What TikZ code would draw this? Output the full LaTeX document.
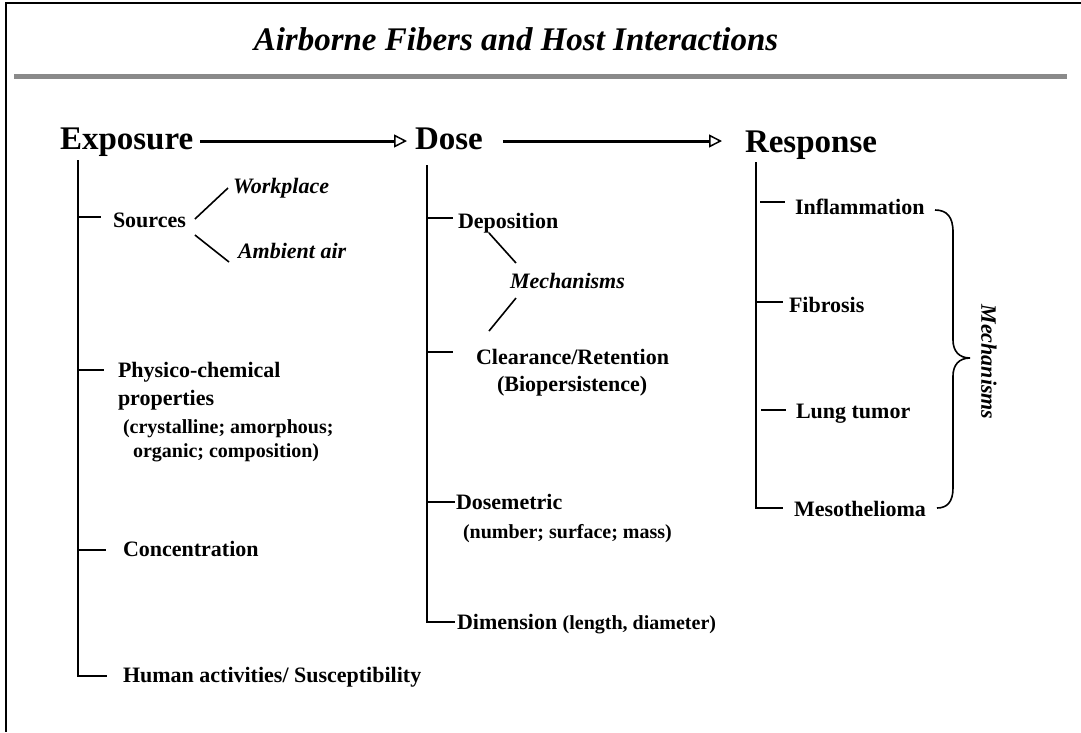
\documentclass[tikz,border=0pt]{standalone}
\usepackage{fontspec}
\setmainfont{Liberation Serif}
\usetikzlibrary{arrows.meta}
\definecolor{rulegray}{HTML}{8A8A8A}
\begin{document}
\begin{tikzpicture}[x=1pt,y=-1pt,
  every node/.style={inner sep=0pt, outer sep=0pt, anchor=base west},
  titlefont/.style={font=\fontsize{33}{36}\selectfont\bfseries\itshape},
  head/.style={font=\fontsize{33}{36}\selectfont\bfseries},
  item/.style={font=\fontsize{22}{24}\selectfont\bfseries},
  sub/.style={font=\fontsize{20}{22}\selectfont\bfseries},
  ital/.style={font=\fontsize{22}{24}\selectfont\bfseries\itshape},
  trunk/.style={line width=2pt},
  thinline/.style={line width=1.6pt},
  flow/.style={line width=3pt, -{Triangle[open,length=13pt,width=13pt,line width=1.5pt]}},
]
\useasboundingbox (0,0) rectangle (1081,732);
% frame and rule
\draw[line width=2.2pt] (1081,3) -- (6,3) -- (6,732);
\fill[rulegray] (14,74) rectangle (1067,79);
\node[titlefont, anchor=base] (title) at (516,50) {Airborne Fibers and Host Interactions};

% headings
\node[head] (exp)  at (60,149)  {Exposure};
\node[head] (dose) at (415,149) {Dose};
\node[head] (resp) at (745,152) {Response};
\draw[flow] ([shift={(7,-8)}]exp.base east) -- ([shift={(-8,-8)}]dose.base west);
\draw[flow] ([shift={(20,-8)}]dose.base east) -- ([shift={(-23,-11)}]resp.base west);

% ---------- Exposure column ----------
\node[item] (src)  at (113,227) {Sources};
\node[ital] (work) at (233,193) {Workplace};
\node[ital] (amb)  at (238,258) {Ambient air};
\draw[thinline] ([shift={(9,-8)}]src.base east) -- ([shift={(-5,-5)}]work.base west);
\draw[thinline] ([shift={(9,8)}]src.base east) -- ([shift={(-9,4)}]amb.base west);

\node[item] (phys1) at (118,377) {Physico-chemical};
\node[item] (phys2) at (118,405) {properties};
\node[sub]  (phys3) at (123,433) {(crystalline; amorphous;};
\node[sub]  (phys4) at (133,457) {organic; composition)};
\node[item] (conc)  at (123,556) {Concentration};
\node[item] (hum)   at (123,682) {Human activities/ Susceptibility};

\coordinate (et) at (78,160);
\coordinate (eb) at (78,676);
\draw[trunk] (et) -- (eb) -- ([xshift=-16pt]hum.west |- eb);
\draw[trunk] (et |- 0,217) -- ([xshift=-12pt]src.west |- 0,217);
\draw[trunk] (et |- 0,370) -- ([xshift=-14pt]phys1.west |- 0,370);
\draw[trunk] (et |- 0,550) -- ([xshift=-17pt]conc.west |- 0,550);

% ---------- Dose column ----------
\node[item] (dep)  at (458,228) {Deposition};
\node[ital] (mech) at (510,288) {Mechanisms};
\node[item] (clr)  at (476,364) {Clearance/Retention};
\node[item] (bio)  at (497,391) {(Biopersistence)};
\node[item] (dsm)  at (456,509) {Dosemetric};
\node[sub]  (dsm2) at (463,538) {(number; surface; mass)};
\node[item] (dim)  at (457,629) {Dimension \fontsize{20}{22}\selectfont(length, diameter)};
\draw[thinline] ([shift={(31,5)}]dep.base west) -- ([shift={(6,-25)}]mech.base west);
\draw[thinline] ([shift={(6,10)}]mech.base west) -- ([shift={(13,-33)}]clr.base west);

\coordinate (dt) at (427,165);
\coordinate (db) at (427,622);
\draw[trunk] (dt) -- (db) -- ([xshift=-2pt]dim.west |- db);
\draw[trunk] (dt |- 0,218) -- ([xshift=-5pt]dep.west |- 0,218);
\draw[trunk] (dt |- 0,352) -- ([xshift=-23pt]clr.west |- 0,352);
\draw[trunk] (dt |- 0,502) -- ([xshift=-1pt]dsm.west |- 0,502);

% ---------- Response column ----------
\node[item] (infl) at (795,214) {Inflammation};
\node[item] (fib)  at (789,312) {Fibrosis};
\node[item] (lung) at (796,418) {Lung tumor};
\node[item] (meso) at (794,516) {Mesothelioma};

\coordinate (rt) at (756,162);
\coordinate (rb) at (756,508);
\draw[trunk] (rt) -- (rb) -- ([xshift=-11pt]meso.west |- rb);
\draw[trunk] ([xshift=4pt]rt |- 0,202) -- ([xshift=-10pt]infl.west |- 0,202);
\draw[trunk] (rt |- 0,302) -- ([xshift=-6pt]fib.west |- 0,302);
\draw[trunk] ([xshift=5pt]rt |- 0,410) -- ([xshift=-10pt]lung.west |- 0,410);

% brace
\draw[thinline] (935,210) .. controls (947,210) and (953,217) .. (953,232)
  -- (953,340) .. controls (953,351) and (959,358) .. (970,358)
  .. controls (959,358) and (953,365) .. (953,376)
  -- (953,488) .. controls (953,502) and (947,508) .. (937,508);
\node[ital, anchor=center, rotate=-90] (mech2) at (989,362) {Mechanisms};
\end{tikzpicture}
\end{document}
